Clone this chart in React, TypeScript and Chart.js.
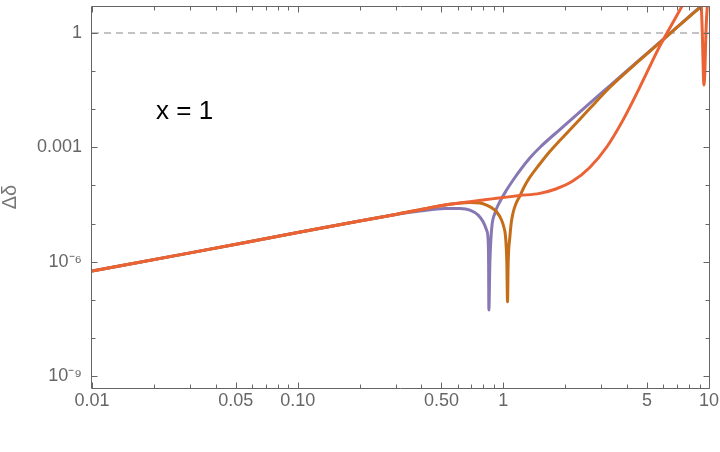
import React, { useEffect, useRef } from 'react';
import { Chart, registerables } from 'chart.js';

Chart.register(...registerables);

const FONT = "'Liberation Sans', Arial, sans-serif";

// ---- data ----
const redX = [0.01, 0.03, 0.1, 0.2, 0.3, 0.44, 0.548, 0.615, 0.688, 0.829, 0.927, 1.2, 1.504, 1.799, 2.176, 2.631, 3.183, 3.805, 4.603, 5.755, 7.443, 8.2, 8.8, 9.1, 9.18, 9.28, 9.38, 9.445, 9.55, 9.66, 9.81, 10];
const redY = [5.67e-7, 1.7e-6, 5.8e-6, 1.16e-5, 1.73e-5, 2.6e-5, 3.2e-5, 3.45e-5, 3.75e-5, 4.27e-5, 4.58e-5, 5.43e-5, 6.2e-5, 8.05e-5, 1.3e-4, 2.96e-4, 1.02e-3, 5.02e-3, 0.0374, 0.445, 5.43, 15, 25, 15, 5.2, 1.0, 0.1, 0.043, 0.1, 1.0, 5.2, 14];

const purpleX = [0.01, 0.03, 0.1, 0.2, 0.3, 0.393, 0.52, 0.615, 0.688, 0.7545, 0.7977, 0.8287, 0.8436, 0.848, 0.8505, 0.86, 0.8763, 0.909, 0.9616, 1.0366, 1.116, 1.203, 1.345, 1.504, 1.882, 2.536, 3.29, 4.603, 6.44, 9.0, 10];
const purpleY = [5.67e-7, 1.7e-6, 5.8e-6, 1.16e-5, 1.72e-5, 2.13e-5, 2.5e-5, 2.48e-5, 2.26e-5, 1.67e-5, 1.11e-5, 6.75e-6, 3.69e-6, 9.2e-7, 5.4e-8, 9.0e-7, 6.75e-6, 1.85e-5, 3.73e-5, 7.57e-5, 1.39e-4, 2.46e-4, 5.24e-4, 9.9e-4, 2.93e-3, 0.0121, 0.0411, 0.199, 0.964, 4.67, 7.5];

const orangeX = [0.01, 0.03, 0.1, 0.2, 0.3, 0.44, 0.548, 0.688, 0.769, 0.8287, 0.8784, 0.927, 0.98, 1.0055, 1.025, 1.0399, 1.048, 1.0557, 1.076, 1.0937, 1.116, 1.15, 1.203, 1.258, 1.319, 1.504, 1.682, 1.882, 2.104, 2.631, 3.29, 4.603, 6.44, 9.0, 10];
const orangeY = [5.67e-7, 1.7e-6, 5.8e-6, 1.16e-5, 1.73e-5, 2.6e-5, 3.2e-5, 3.55e-5, 3.45e-5, 3.06e-5, 2.58e-5, 2.04e-5, 1.24e-5, 8.1e-6, 4.5e-6, 9.2e-7, 8.9e-8, 9.2e-7, 4.5e-6, 1.09e-5, 1.95e-5, 3.25e-5, 5.27e-5, 8.81e-5, 1.39e-4, 3.65e-4, 7.76e-4, 1.51e-3, 2.84e-3, 0.0104, 0.0371, 0.193, 0.953, 4.59, 7.3];

const refX = [0.01, 10];
const refY = [1, 1];

const xMin = 0.01;
const xMax = 10;
const yMin = 4.84e-10;
const yMax = 5.11;

const xTickValues = [0.01, 0.02, 0.03, 0.04, 0.05, 0.06, 0.07, 0.08, 0.09, 0.1, 0.2, 0.3, 0.4, 0.5, 0.6, 0.7, 0.8, 0.9, 1, 2, 3, 4, 5, 6, 7, 8, 9, 10];
const xMajorValues = [0.01, 0.05, 0.1, 0.5, 1, 5, 10];
const xMajorLabels = ['0.01', '0.05', '0.10', '0.50', '1', '5', '10'];

const yTickValues = [1e-9, 1e-8, 1e-7, 1e-6, 1e-5, 1e-4, 1e-3, 1e-2, 1e-1, 1];
const yMajorValues = [1e-9, 1e-6, 1e-3, 1];
const yMajorLabels = ['10\u207B\u2079', '10\u207B\u2076', '0.001', '1'];

const yTitle = '\u0394\u03B4';
const annotationText = 'x = 1';
const annotationX = 0.0205;
const annotationY = 0.0055;

// ---- helpers ----
const sameValue = (a: number, b: number) => Math.abs(Math.log10(a) - Math.log10(b)) < 1e-6;
const majorIndex = (v: number, majors: number[]) => majors.findIndex((m) => sameValue(v, m));
const toPoints = (xs: number[], ys: number[]) => xs.map((x, i) => ({ x, y: ys[i] }));

const framePlugin = {
  id: 'frameTicks',
  afterDatasetsDraw(chart: any) {
    const { ctx, chartArea: a, scales } = chart;
    const xs = scales.x;
    const ys = scales.y;
    const L = Math.round(a.left) - 0.5;
    const R = Math.round(a.right) + 0.5;
    const T = Math.round(a.top) + 0.5;
    const B = Math.round(a.bottom) + 0.5;
    ctx.save();
    ctx.strokeStyle = '#666666';
    ctx.lineWidth = 1;
    ctx.beginPath();
    ctx.rect(L, T, R - L, B - T);
    ctx.stroke();
    ctx.beginPath();
    xTickValues.forEach((v) => {
      const len = majorIndex(v, xMajorValues) >= 0 ? 6 : 4;
      const p = Math.round(xs.getPixelForValue(v)) + 0.5;
      ctx.moveTo(p, B);
      ctx.lineTo(p, B - len);
      ctx.moveTo(p, T);
      ctx.lineTo(p, T + len);
    });
    yTickValues.forEach((v) => {
      const len = majorIndex(v, yMajorValues) >= 0 ? 6 : 4;
      const p = Math.round(ys.getPixelForValue(v)) + 0.5;
      ctx.moveTo(L, p);
      ctx.lineTo(L + len, p);
      ctx.moveTo(R, p);
      ctx.lineTo(R - len, p);
    });
    ctx.stroke();
    ctx.restore();
  },
  afterDraw(chart: any) {
    const { ctx, scales } = chart;
    ctx.save();
    ctx.font = `26px ${FONT}`;
    ctx.fillStyle = '#000000';
    ctx.textAlign = 'left';
    ctx.textBaseline = 'alphabetic';
    ctx.fillText(annotationText, scales.x.getPixelForValue(annotationX), scales.y.getPixelForValue(annotationY));
    ctx.restore();
  },
};

export default function App() {
  const canvasRef = useRef<HTMLCanvasElement | null>(null);

  useEffect(() => {
    if (!canvasRef.current) return;
    const lineBase = {
      pointRadius: 0,
      pointHoverRadius: 0,
      borderWidth: 3,
      fill: false,
      clip: 0,
      cubicInterpolationMode: 'monotone' as const,
    };
    const chart = new Chart(canvasRef.current, {
      type: 'line',
      data: {
        datasets: [
          { ...lineBase, label: 'red', data: toPoints(redX, redY), borderColor: '#EB6235', order: 1 },
          { ...lineBase, label: 'orange', data: toPoints(orangeX, orangeY), borderColor: '#C56E1A', order: 2 },
          { ...lineBase, label: 'purple', data: toPoints(purpleX, purpleY), borderColor: '#8778B3', order: 3 },
          {
            label: 'reference',
            data: toPoints(refX, refY),
            borderColor: '#b0b0b0',
            borderWidth: 1.3,
            borderDash: [7, 5],
            pointRadius: 0,
            fill: false,
            clip: 0,
            order: 4,
          },
        ],
      },
      options: {
        animation: false,
        responsive: false,
        devicePixelRatio: 1,
        layout: { padding: { top: 6, right: 11, left: 0, bottom: 0 } },
        plugins: { legend: { display: false }, tooltip: { enabled: false } },
        events: [],
        scales: {
          x: {
            type: 'logarithmic',
            min: xMin,
            max: xMax,
            position: 'bottom',
            afterBuildTicks: (s: any) => {
              s.ticks = xTickValues.map((v) => ({ value: v }));
            },
            afterFit: (s: any) => {
              s.height = 64;
              s.paddingLeft = 0;
              s.paddingRight = 0;
            },
            grid: { display: false, drawTicks: false },
            border: { display: false },
            ticks: {
              autoSkip: false,
              maxRotation: 0,
              minRotation: 0,
              padding: 2,
              color: '#666666',
              font: { family: FONT, size: 18 },
              callback: (v: any) => {
                const i = majorIndex(Number(v), xMajorValues);
                return i >= 0 ? xMajorLabels[i] : '';
              },
            },
          },
          y: {
            type: 'logarithmic',
            min: yMin,
            max: yMax,
            position: 'left',
            afterBuildTicks: (s: any) => {
              s.ticks = yTickValues.map((v) => ({ value: v }));
            },
            afterFit: (s: any) => {
              s.width = 92;
              s.paddingTop = 0;
              s.paddingBottom = 0;
            },
            grid: { display: false, drawTicks: false },
            border: { display: false },
            title: {
              display: true,
              text: yTitle,
              color: '#777777',
              font: { family: FONT, size: 20, lineHeight: 1 },
              padding: { top: 0, bottom: 0 },
            },
            ticks: {
              autoSkip: false,
              padding: 10,
              color: '#666666',
              font: { family: FONT, size: 18 },
              callback: (v: any) => {
                const i = majorIndex(Number(v), yMajorValues);
                return i >= 0 ? yMajorLabels[i] : '';
              },
            },
          },
        },
      },
      plugins: [framePlugin],
    });
    return () => chart.destroy();
  }, []);

  return (
    <div style={{ position: 'absolute', left: 0, top: 0, width: 720, height: 452, background: '#ffffff' }}>
      <canvas ref={canvasRef} width={720} height={452} style={{ display: 'block' }} />
    </div>
  );
}
